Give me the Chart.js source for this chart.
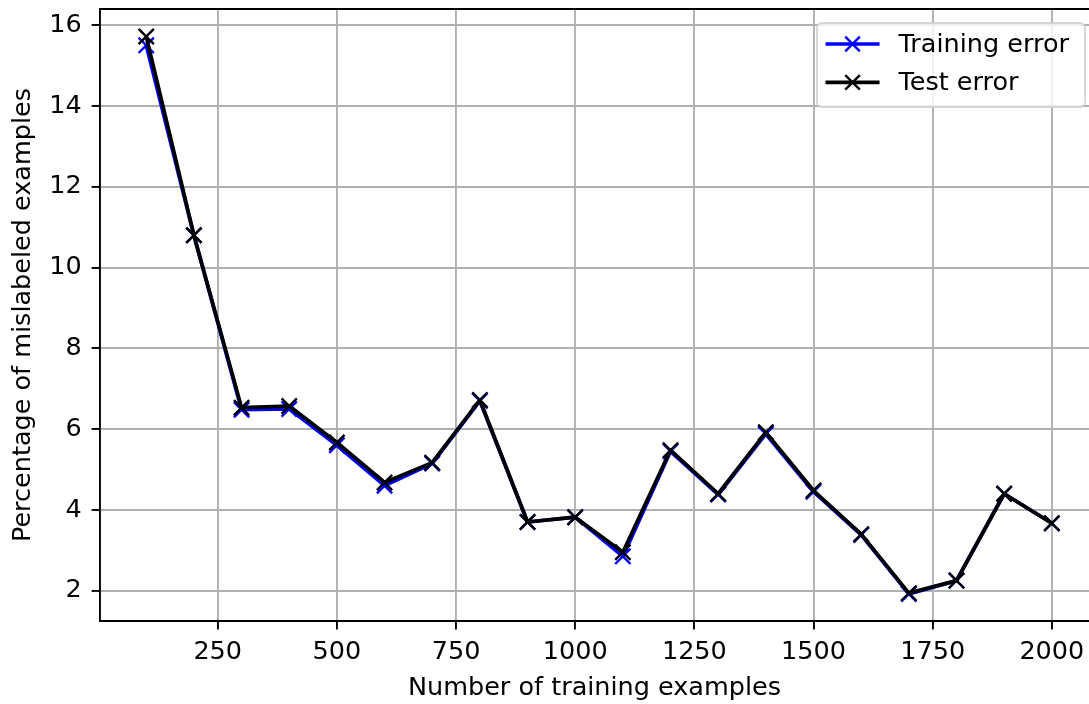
<!DOCTYPE html>
<html>
<head>
<meta charset="utf-8">
<script src="https://cdn.jsdelivr.net/npm/chart.js@4.4.1/dist/chart.umd.min.js"></script>
<style>
  html, body { margin:0; padding:0; background:#fff; }
  #wrap { width:1089px; height:704px; position:relative; }
</style>
</head>
<body>
<div id="wrap"><canvas id="c"></canvas></div>
<script>
// data
const sizes    = [100,200,300,400,500,600,700,800,900,1000,1100,1200,1300,1400,1500,1600,1700,1800,1900,2000];
const trainErr = [15.5,10.8,6.48,6.5,5.6,4.6,5.15,6.7,3.7,3.82,2.85,5.45,4.38,5.88,4.45,3.38,1.92,2.25,4.4,3.67];
const testErr  = [15.72,10.8,6.53,6.57,5.67,4.68,5.17,6.72,3.7,3.82,2.95,5.48,4.4,5.92,4.48,3.4,1.94,2.25,4.4,3.67];
const xTicks = [250,500,750,1000,1250,1500,1750,2000];
const yTicks = [2,4,6,8,10,12,14,16];
const seriesNames = ['Training error','Test error'];

const FONT = 'DejaVu Sans';
const FS = 25.5;

// tiny helpers
const pts = ys => sizes.map((x,i)=>({x, y: ys[i]}));
// drop the auto label padding so the plot box sits where matplotlib put it
const noPad = s => { s.paddingTop = 0; s.paddingBottom = 0; s.paddingLeft = 0; s.paddingRight = 0; };

// top spine (matplotlib box)
const spinePlugin = {
  id:'spine',
  afterDraw(chart){
    const {ctx, chartArea:a} = chart;
    ctx.save();
    ctx.strokeStyle = '#000'; ctx.lineWidth = 1.9;
    ctx.beginPath(); ctx.moveTo(a.left, a.top); ctx.lineTo(a.right, a.top); ctx.stroke();
    ctx.restore();
  }
};

// matplotlib-ish legend: line + marker handle, framed box upper right
const mplLegend = {
  id:'mplLegend',
  afterDraw(chart){
    const {ctx, chartArea:a} = chart;
    const ds = chart.data.datasets;
    ctx.save();
    ctx.font = `${FS}px "${FONT}"`;
    const tw = Math.max(...ds.map(d=>ctx.measureText(d.label).width));
    const padL = 8.5, handle = 54, gap = 19, padR = 16, rowH = 38.4;
    const w = padL + handle + gap + tw + padR;
    const h = 84;
    const right = a.right - 4, top = a.top + 14;
    const left = right - w;
    ctx.beginPath();
    ctx.roundRect(left, top, w, h, 5);
    ctx.fillStyle = 'rgba(255,255,255,0.8)'; ctx.fill();
    ctx.strokeStyle = 'rgba(204,204,204,0.8)'; ctx.lineWidth = 1.9; ctx.stroke();
    ds.forEach((d,i)=>{
      const cy = top + 21 + i*rowH;
      const x0 = left + padL, x1 = x0 + handle, xm = (x0+x1)/2;
      ctx.strokeStyle = d.borderColor; ctx.lineWidth = 3.6;
      ctx.beginPath(); ctx.moveTo(x0, cy); ctx.lineTo(x1, cy); ctx.stroke();
      const r = 7.3;
      ctx.lineWidth = 2.4;
      ctx.beginPath();
      ctx.moveTo(xm-r, cy-r); ctx.lineTo(xm+r, cy+r);
      ctx.moveTo(xm-r, cy+r); ctx.lineTo(xm+r, cy-r);
      ctx.stroke();
      ctx.fillStyle = '#000'; ctx.textBaseline = 'middle'; ctx.textAlign = 'left';
      ctx.fillText(d.label, x1 + gap, cy + 1);
    });
    ctx.restore();
  }
};

const grid = { color:'#b0b0b0', lineWidth:1.9, tickColor:'#000', tickWidth:1.9, tickLength:8.4, drawTicks:true };

new Chart(document.getElementById('c'), {
  type:'line',
  data:{
    datasets:[
      { label: seriesNames[0], data: pts(trainErr), borderColor:'#0000ff', backgroundColor:'#0000ff',
        borderWidth:3.7, pointStyle:'crossRot', pointRadius:10.8, pointBorderWidth:2.4, pointBorderColor:'#0000ff',
        tension:0, order:1 },
      { label: seriesNames[1], data: pts(testErr), borderColor:'#000000', backgroundColor:'#000000',
        borderWidth:3.7, pointStyle:'crossRot', pointRadius:10.8, pointBorderWidth:2.4, pointBorderColor:'#000000',
        tension:0, order:0 }
    ]
  },
  options:{
    responsive:true, maintainAspectRatio:false, animation:false,
    layout:{ autoPadding:false, padding:{ top:9, right:0, left:0, bottom:0 } },
    plugins:{ legend:{display:false}, tooltip:{enabled:false} },
    elements:{ line:{ borderCapStyle:'butt', borderJoinStyle:'round' } },
    scales:{
      x:{
        type:'linear', min:3, max:2078,
        afterBuildTicks: s => { s.ticks = xTicks.map(v=>({value:v})); },
        afterFit: s => { s.height = 83; noPad(s); },
        grid, border:{ color:'#000', width:1.9 },
        ticks:{ color:'#000', padding:8, maxRotation:0, font:{family:FONT, size:FS},
                callback: v => String(v) },
        title:{ display:true, text:'Number of training examples', color:'#000',
                font:{family:FONT, size:FS}, padding:{top:0, bottom:0} }
      },
      y:{
        type:'linear', min:1.25, max:16.4,
        afterBuildTicks: s => { s.ticks = yTicks.map(v=>({value:v})); },
        afterFit: s => { s.width = 100; noPad(s); },
        grid, border:{ color:'#000', width:1.9 },
        ticks:{ color:'#000', padding:10, font:{family:FONT, size:FS}, callback: v => String(v) },
        title:{ display:true, text:'Percentage of mislabeled examples', color:'#000',
                font:{family:FONT, size:FS}, padding:{top:8, bottom:0} }
      }
    }
  },
  plugins:[spinePlugin, mplLegend]
});
</script>
</body>
</html>
